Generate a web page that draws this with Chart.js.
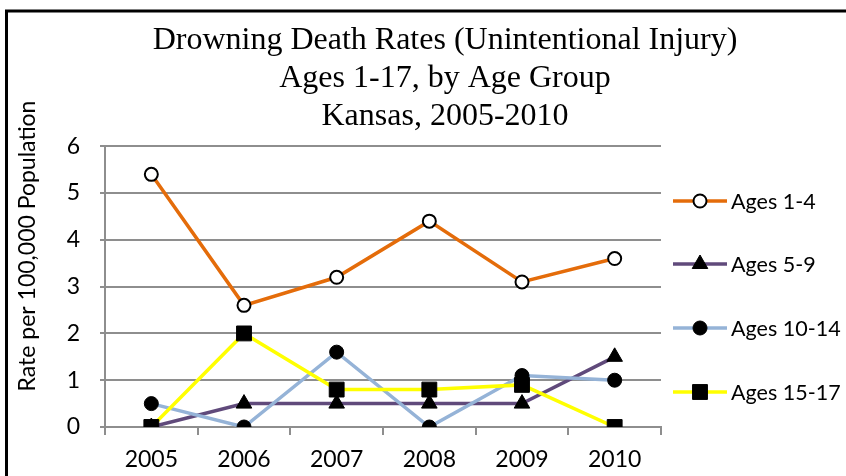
<!DOCTYPE html>
<html><head><meta charset="utf-8">
<script src="https://cdn.jsdelivr.net/npm/chart.js@4/dist/chart.umd.min.js"></script>
<style>html,body{margin:0;padding:0;background:#fff}#wrap{width:846px;height:476px;position:relative}canvas{display:block}</style>
</head><body><div id="wrap"><canvas id="c" width="846" height="476"></canvas></div>
<script>
const years = ['2005','2006','2007','2008','2009','2010'];
const seriesNames = ['Ages 1-4','Ages 5-9','Ages 10-14','Ages 15-17'];
const ages1to4 = [5.4, 2.6, 3.2, 4.4, 3.1, 3.6];
const ages5to9 = [0, 0.5, 0.5, 0.5, 0.5, 1.5];
const ages10to14 = [0.5, 0, 1.6, 0, 1.1, 1.0];
const ages15to17 = [0, 2, 0.8, 0.8, 0.9, 0];
const yTickValues = [0, 1, 2, 3, 4, 5, 6];
const titleLines = ['Drowning Death Rates (Unintentional Injury)', 'Ages 1-17, by Age Group', 'Kansas, 2005-2010'];
const yTitle = 'Rate per 100,000 Population';

const SANS = 'Lato, "Open Sans", sans-serif';
const GRID = '#8e8e8e';

const frameAndLabels = {
  id: 'frameAndLabels',
  beforeDraw(chart) {
    const ctx = chart.ctx;
    ctx.save();
    ctx.fillStyle = '#fff';
    ctx.fillRect(0, 0, chart.width, chart.height);
    ctx.strokeStyle = '#000';
    ctx.lineWidth = 3;
    ctx.strokeRect(6.5, 11, 900, 600);
    ctx.restore();
  },
  afterDraw(chart) {
    const ctx = chart.ctx;
    ctx.save();
    ctx.translate(28, 246);
    ctx.rotate(-Math.PI / 2);
    ctx.font = '23px ' + SANS;
    ctx.fillStyle = '#000';
    ctx.textAlign = 'center';
    ctx.textBaseline = 'middle';
    ctx.fillText(yTitle, 0, 0);
    ctx.restore();
    const ys = [201, 264, 328, 392];
    chart.data.datasets.forEach((ds, i) => {
      const y = ys[i];
      ctx.save();
      ctx.strokeStyle = ds.borderColor;
      ctx.lineWidth = ds.borderWidth;
      ctx.beginPath();
      ctx.moveTo(673, y);
      ctx.lineTo(727, y);
      ctx.stroke();
      ctx.fillStyle = ds.pointBackgroundColor;
      ctx.strokeStyle = ds.pointBorderColor;
      ctx.lineWidth = ds.pointBorderWidth;
      Chart.helpers.drawPoint(ctx, {
        pointStyle: ds.pointStyle,
        radius: ds.pointRadius,
        borderWidth: ds.pointBorderWidth,
        rotation: 0
      }, 700, y);
      ctx.fillStyle = '#000';
      ctx.font = '21.5px ' + SANS;
      ctx.textAlign = 'left';
      ctx.textBaseline = 'middle';
      ctx.fillText(ds.label, 731, y + 1);
      ctx.restore();
    });
  }
};

const mk = (label, data, color, style, radius, bg, order) => ({
  label, data,
  borderColor: color,
  backgroundColor: color,
  borderWidth: 3.5,
  pointStyle: style,
  pointRadius: radius,
  pointHoverRadius: radius,
  pointBackgroundColor: bg,
  pointBorderColor: '#000',
  pointBorderWidth: bg === '#ffffff' ? 2 : 1,
  tension: 0,
  order
});

new Chart(document.getElementById('c'), {
  type: 'line',
  plugins: [frameAndLabels],
  data: {
    labels: years,
    datasets: [
      mk(seriesNames[0], ages1to4, '#E46C0A', 'circle', 6.5, '#ffffff', 4),
      mk(seriesNames[1], ages5to9, '#604A7B', 'triangle', 9, '#000000', 3),
      mk(seriesNames[2], ages10to14, '#95B3D7', 'circle', 7, '#000000', 2),
      mk(seriesNames[3], ages15to17, '#FFFF00', 'rect', 10.5, '#000000', 1)
    ]
  },
  options: {
    responsive: false,
    animation: false,
    devicePixelRatio: 1,
    layout: { padding: { left: 44, right: 0, top: 14, bottom: 0 } },
    plugins: {
      legend: { display: false },
      tooltip: { enabled: false },
      title: {
        display: true,
        text: titleLines,
        color: '#000',
        font: { family: '"Liberation Serif", "Times New Roman", serif', size: 32, weight: 'normal', lineHeight: 1.18 },
        padding: { top: 8, bottom: 11 }
      }
    },
    scales: {
      x: {
        type: 'category',
        offset: true,
        grid: { display: true, drawOnChartArea: false, drawTicks: true, tickLength: 8, color: GRID, lineWidth: 2, offset: true },
        border: { display: true, color: GRID, width: 2 },
        ticks: { color: '#000', font: { family: SANS, size: 23 }, padding: 11, maxRotation: 0 },
        afterFit(s) { s.height = 49; }
      },
      y: {
        min: 0, max: 6,
        afterBuildTicks(s) { s.ticks = yTickValues.map(v => ({ value: v })); },
        grid: { color: GRID, lineWidth: 2, tickLength: 5, drawTicks: true },
        border: { display: true, color: GRID, width: 2 },
        ticks: { color: '#000', font: { family: SANS, size: 23 }, padding: 20 },
        afterFit(s) { s.width = 61; }
      },
      legendSpace: {
        type: 'linear',
        position: 'right',
        display: true,
        grid: { display: false, drawTicks: false },
        border: { display: false },
        ticks: { display: false },
        afterFit(s) { s.width = 185; }
      }
    }
  }
});
</script>
</body></html>
